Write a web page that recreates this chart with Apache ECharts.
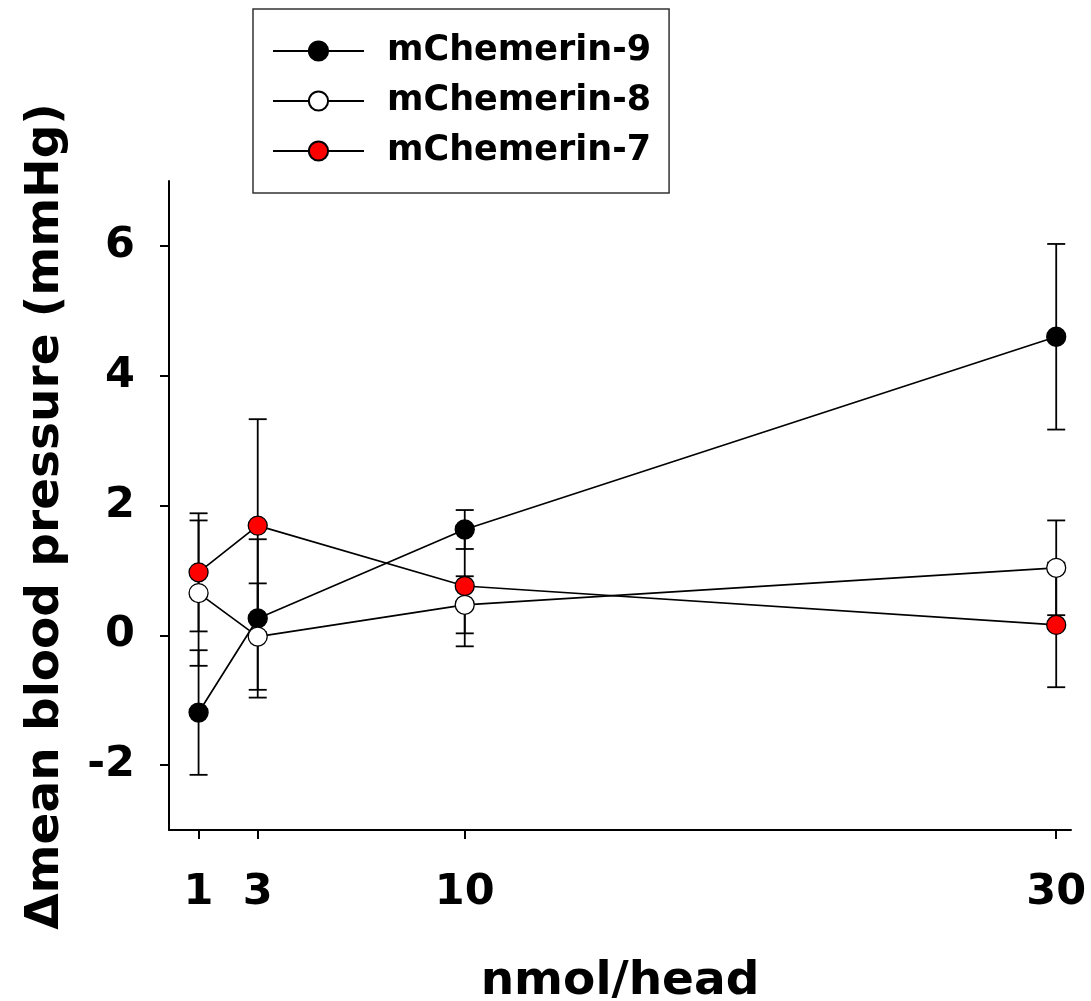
<!DOCTYPE html>
<html>
<head>
<meta charset="utf-8">
<script src="https://cdn.jsdelivr.net/npm/echarts@6/dist/echarts.min.js"></script>
<style>
  html, body { margin: 0; padding: 0; background: #fff; }
  #chart { width: 1091px; height: 1001px; }
</style>
</head>
<body>
<div id="chart"></div>
<script>
// doses (nmol/head)
var doses = [1, 3, 10, 30];
var xTicks = [1, 3, 10, 30];
var yTicks = [-2, 0, 2, 4, 6];

// mean change and SEM per peptide
var chem9Mean = [-1.19, 0.26, 1.63, 4.60];
var chem9Sem = [0.96, 1.22, 0.30, 1.43];
var chem8Mean = [0.65, -0.02, 0.47, 1.04];
var chem8Sem = [1.12, 0.82, 0.44, 0.73];
var chem7Mean = [0.97, 1.69, 0.76, 0.16];
var chem7Sem = [0.91, 1.64, 0.93, 0.96];

var FONT = 'DejaVu Sans';

function pairs(mean) {
    return doses.map(function(d, i) { return [d, mean[i]]; });
}

function errData(mean, sem) {
    return doses.map(function(d, i) { return [d, mean[i] - sem[i], mean[i] + sem[i]]; });
}

// vertical error bar with caps
function renderErr(params, api) {
    var lo = api.coord([api.value(0), api.value(1)]);
    var hi = api.coord([api.value(0), api.value(2)]);
    var w = 9;
    var st = { stroke: '#000', lineWidth: 1.8 };
    return {
        type: 'group',
        children: [
            { type: 'line', shape: { x1: hi[0], y1: hi[1], x2: lo[0], y2: lo[1] }, style: st },
            { type: 'line', shape: { x1: hi[0] - w, y1: hi[1], x2: hi[0] + w, y2: hi[1] }, style: st },
            { type: 'line', shape: { x1: lo[0] - w, y1: lo[1], x2: lo[0] + w, y2: lo[1] }, style: st }
        ]
    };
}

function lineSeries(name, mean, fill) {
    return {
        name: name,
        type: 'line',
        data: pairs(mean),
        symbol: 'circle',
        symbolSize: 19,
        lineStyle: { color: '#000', width: 1.7 },
        itemStyle: { color: fill, borderColor: '#000', borderWidth: 1.3 },
        emphasis: { disabled: true },
        animation: false
    };
}

function errSeries(mean, sem) {
    return {
        type: 'custom',
        data: errData(mean, sem),
        renderItem: renderErr,
        encode: { x: 0, y: [1, 2] },
        animation: false,
        silent: true
    };
}

var option = {
    backgroundColor: '#fff',
    animation: false,
    textStyle: { fontFamily: FONT },
    legend: {
        data: ['mChemerin-9', 'mChemerin-8', 'mChemerin-7'],
        orient: 'vertical',
        left: 253,
        top: 9,
        width: 411,
        padding: [22, 18, 22, 19],
        itemGap: 10,
        itemWidth: 91,
        itemHeight: 24,
        borderColor: '#333',
        borderWidth: 1.5,
        selectedMode: false,
        textStyle: {
            fontFamily: FONT,
            fontWeight: 'bold',
            fontSize: 35,
            color: '#000',
            lineHeight: 40,
            padding: [0, 0, 0, 18]
        }
    },
    grid: { left: 169, right: 20, top: 181, bottom: 171, outerBoundsMode: 'none', containLabel: false },
    xAxis: {
        type: 'value',
        min: 0,
        max: 30.5,
        name: 'nmol/head',
        nameLocation: 'middle',
        nameGap: 128,
        nameTextStyle: { fontFamily: FONT, fontWeight: 'bold', fontSize: 47, color: '#000' },
        axisLine: { onZero: false, lineStyle: { color: '#000', width: 2 } },
        axisTick: { show: true, inside: false, length: 9, customValues: xTicks, lineStyle: { color: '#000', width: 2 } },
        axisLabel: { customValues: xTicks, margin: 41, fontFamily: FONT, fontWeight: 'bold', fontSize: 43, color: '#000' },
        splitLine: { show: false }
    },
    yAxis: {
        type: 'value',
        min: -3,
        max: 7,
        name: '\u0394mean blood pressure (mmHg)',
        nameLocation: 'middle',
        nameRotate: 90,
        nameGap: 100,
        nameTextStyle: { fontFamily: FONT, fontWeight: 'bold', fontSize: 47, color: '#000', padding: [0, 22, 0, 0] },
        axisLine: { show: true, onZero: false, lineStyle: { color: '#000', width: 2 } },
        axisTick: { show: true, inside: false, length: 9, customValues: yTicks, lineStyle: { color: '#000', width: 2 } },
        axisLabel: { customValues: yTicks, margin: 34, fontFamily: FONT, fontWeight: 'bold', fontSize: 43, color: '#000' },
        splitLine: { show: false }
    },
    series: [
        lineSeries('mChemerin-9', chem9Mean, '#000000'),
        errSeries(chem9Mean, chem9Sem),
        lineSeries('mChemerin-8', chem8Mean, '#ffffff'),
        errSeries(chem8Mean, chem8Sem),
        lineSeries('mChemerin-7', chem7Mean, '#ff0000'),
        errSeries(chem7Mean, chem7Sem)
    ]
};

var myChart = echarts.init(document.getElementById('chart'), null, { renderer: 'canvas' });
myChart.setOption(option);
</script>
</body>
</html>
